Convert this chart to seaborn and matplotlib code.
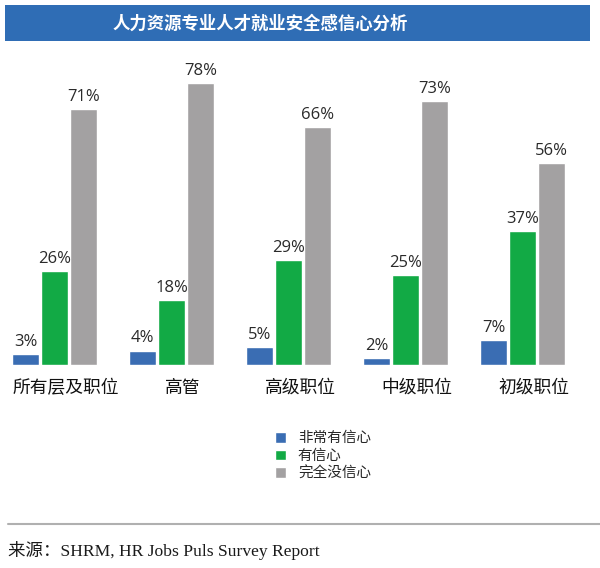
import matplotlib
matplotlib.use("Agg")
import matplotlib.pyplot as plt
import matplotlib.transforms as mtransforms
from matplotlib.patches import Rectangle
import seaborn as sns
import pandas as pd

title = "人力资源专业人才就业安全感信心分析"
categories = ["所有层及职位", "高管", "高级职位", "中级职位", "初级职位"]
series = ["非常有信心", "有信心", "完全没信心"]
very_confident = [3, 4, 5, 2, 7]
confident = [26, 18, 29, 25, 37]
not_confident = [71, 78, 66, 73, 56]
source = "来源：SHRM, HR Jobs Puls Survey Report"

colors = ["#3A6DB3", "#12AA45", "#A3A1A2"]

rows = []
for vals, s in zip([very_confident, confident, not_confident], series):
    for c, v in zip(categories, vals):
        rows.append({"cat": c, "series": s, "value": v})
df = pd.DataFrame(rows)

sns.set_theme(style="white")
plt.rcParams["font.family"] = ["Open Sans", "Noto Sans CJK SC", "DejaVu Sans"]

fig = plt.figure(figsize=(6.0, 5.68), dpi=100)
fig.patch.set_facecolor("white")

ax = fig.add_axes([0, (568 - 365) / 568, 1, (365 - 50) / 568])
sns.barplot(data=df, x="cat", y="value", hue="series", order=categories,
            hue_order=series, palette=colors, width=0.743, gap=0.1,
            saturation=1, ax=ax, legend=True)
ax.set_xlim(-54.5 / 117, (600 - 54.5) / 117)
ax.set_ylim(0, 315 / 3.61)
for sp in ax.spines.values():
    sp.set_visible(False)
ax.set_xticks([])
ax.set_yticks([])
ax.set_xlabel("")
ax.set_ylabel("")
ax.patch.set_alpha(0)

for cont in ax.containers:
    ax.bar_label(cont, fmt="%d%%", padding=3, fontsize=12, color="#2A2A2A",
                 family=["Open Sans", "Noto Sans CJK SC"])

trans = mtransforms.blended_transform_factory(ax.transData, fig.transFigure)
for i, c in enumerate(categories):
    ax.text(i + 0.1, 1 - 388 / 568, c, transform=trans, ha="center", va="center",
            fontsize=12.8, color="#111111", family=["Noto Sans CJK SC", "DejaVu Sans"])

handles, labels = ax.get_legend_handles_labels()
ax.legend_.remove()
fig.legend(handles, labels, loc="upper left", bbox_to_anchor=(268 / 600, 1 - 424 / 568),
           frameon=False, handlelength=0.75, handleheight=0.75,
           handletextpad=0.8, labelspacing=0.25, borderpad=0,
           prop={"family": ["Noto Sans CJK SC"], "size": 10.5})

# title bar
fig.patches.append(Rectangle((5 / 600, 1 - 41 / 568), 585 / 600, 36 / 568,
                             transform=fig.transFigure, facecolor="#2F6DB5",
                             edgecolor="none", zorder=0))
fig.text(260 / 600, 1 - 24 / 568, title, ha="center", va="center", color="white",
         fontsize=12.5, fontweight="bold", family=["Noto Sans CJK SC"])

# source line and text
fig.add_artist(plt.Line2D([8 / 600, 1], [1 - 524 / 568] * 2, transform=fig.transFigure,
                          color="#B0B0B0", linewidth=1.5))
fig.text(8 / 600, 1 - 551 / 568, source, ha="left", va="center", color="#1A1A1A",
         fontsize=12.6, family=["Liberation Serif", "Noto Sans CJK SC"])

fig.savefig("out.png", dpi=100, facecolor="white")
